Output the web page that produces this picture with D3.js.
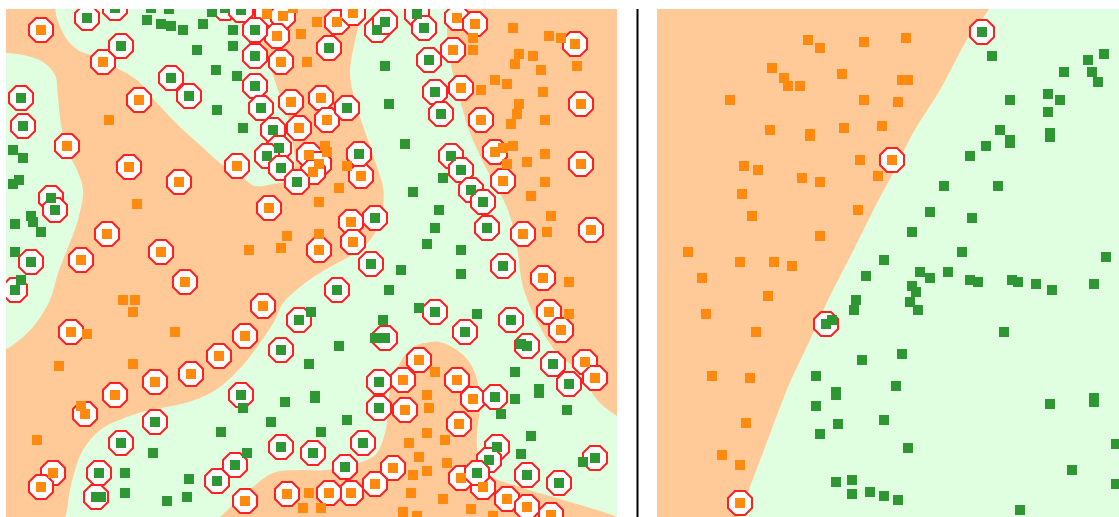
<!DOCTYPE html>
<html>
<head>
<meta charset="utf-8">
<script src="https://cdn.jsdelivr.net/npm/d3@7"></script>
<style>
  html, body { margin: 0; padding: 0; background: #fff; overflow: hidden; }
  svg { display: block; }
</style>
</head>
<body>
<div id="chart"></div>
<script>

// Left panel: non-linear decision regions
const leftGreenRegions = [
  [[6,53],[23,55],[43,62],[55,75],[58,97],[62,130],[72,160],[77,170],[83,190],[78,220],[67,250],[58,273],[50,300],[33,327],[13,345],[6,349],[-20,349],[-20,53]],
  [[58,0],[63,33],[78,50],[100,58],[117,68],[137,80],[157,103],[180,127],[200,145],[220,163],[243,178],[255,186],[273,184],[288,180],[295,165],[293,145],[287,113],[278,90],[272,72],[265,50],[258,30],[255,0]],
  [[364,0],[445,0],[447,33],[452,70],[460,100],[470,133],[487,170],[508,210],[517,247],[523,287],[540,327],[557,353],[577,370],[590,390],[600,403],[617,416],[640,430],[640,530],[617,517],[587,507],[553,497],[520,487],[490,475],[478,453],[477,433],[480,407],[478,383],[470,363],[457,350],[440,342],[430,342],[413,347],[400,363],[390,390],[388,413],[385,433],[377,453],[367,460],[327,470],[300,470],[273,473],[253,487],[220,517],[200,535],[68,535],[68,503],[75,470],[83,450],[100,430],[127,417],[150,410],[177,405],[200,398],[220,387],[243,365],[260,343],[275,320],[283,303],[300,287],[320,273],[343,260],[360,250],[375,233],[383,207],[383,187],[378,170],[368,140],[360,117],[353,93],[350,73],[353,50],[358,28]]
];

const leftOrangeSV = [[41,30],[103,62],[139,100],[67,146],[129,167],[179,182],[267,14],[283,16],[277,36],[281,62],[337,22],[353,13],[291,102],[321,98],[327,120],[299,128],[309,155],[319,164],[313,172],[361,176],[237,166],[457,18],[475,24],[453,50],[575,44],[461,88],[581,104],[481,120],[495,152],[581,164],[503,181],[107,234],[81,260],[161,252],[185,282],[71,332],[269,208],[351,222],[353,242],[319,250],[263,306],[245,336],[523,234],[591,230],[543,278],[549,312],[561,330],[155,382],[191,374],[219,356],[115,395],[85,414],[53,473],[41,487],[419,360],[403,380],[405,410],[393,468],[375,484],[351,493],[329,493],[287,494],[245,501],[457,380],[473,399],[459,424],[585,362],[595,378],[461,478],[483,487],[507,499],[527,507],[551,515]];

const leftGreenSV = [[87,18],[115,8],[121,46],[171,78],[189,96],[21,98],[23,126],[225,8],[241,10],[255,30],[255,56],[255,86],[261,108],[273,130],[279,148],[267,156],[281,168],[329,48],[347,108],[359,154],[377,30],[385,22],[417,14],[424,28],[429,60],[435,92],[441,114],[451,156],[461,170],[471,190],[483,202],[487,228],[51,198],[55,210],[31,262],[15,290],[297,182],[375,218],[371,264],[337,290],[299,320],[281,350],[385,338],[435,312],[503,266],[465,332],[511,320],[527,346],[155,422],[121,443],[96,497],[99,473],[217,481],[241,395],[281,447],[313,453],[235,465],[363,443],[345,467],[379,382],[379,408],[553,364],[569,384],[495,397],[497,447],[489,460],[477,473],[527,475],[559,483],[595,458]];

const leftOrange = [[109,120],[317,22],[301,34],[307,62],[325,146],[327,152],[347,166],[293,8],[513,28],[473,38],[473,50],[549,36],[561,38],[519,54],[533,56],[515,64],[577,66],[541,70],[495,80],[507,84],[481,90],[543,92],[519,104],[517,114],[545,120],[511,124],[513,146],[503,148],[545,154],[507,164],[527,162],[545,182],[137,204],[123,300],[135,300],[133,312],[87,334],[175,332],[339,188],[319,202],[287,236],[319,234],[281,248],[249,250],[531,196],[551,216],[547,232],[569,282],[569,314],[59,366],[133,364],[81,406],[37,440],[309,493],[303,508],[321,508],[409,443],[419,457],[413,475],[411,493],[403,512],[417,516],[427,395],[429,408],[427,433],[427,471],[435,372],[445,440],[447,463],[443,499],[471,509],[493,516]];

const leftGreen = [[147,20],[161,24],[171,26],[183,30],[203,24],[197,50],[212,12],[151,8],[169,9],[216,70],[217,110],[13,150],[23,158],[19,180],[13,184],[233,30],[233,46],[237,76],[243,128],[385,66],[389,104],[405,144],[443,178],[31,216],[33,222],[41,232],[15,224],[15,252],[21,280],[413,192],[427,244],[401,270],[389,290],[419,308],[311,312],[383,320],[375,338],[339,346],[439,210],[435,228],[461,250],[461,274],[477,314],[521,344],[153,453],[125,473],[125,493],[101,497],[189,479],[187,497],[167,501],[309,364],[315,396],[315,398],[285,402],[243,408],[271,422],[347,420],[221,432],[321,432],[247,453],[515,372],[539,389],[539,393],[515,399],[567,410],[501,414],[531,436],[521,454],[583,462]];

// Right panel: linear decision boundary
const rightGreenRegions = [
  [[992,0],[989,9],[968,38],[940,90],[913,133],[892,175],[877,203],[850,257],[828,300],[810,340],[788,387],[770,434],[750,487],[739,517],[730,540],[1140,540],[1140,0]]
];

const rightOrangeSV = [[892,160],[740,503]];
const rightGreenSV = [[982,32],[826,324]];

const rightOrange = [[808,40],[820,48],[864,42],[906,38],[772,68],[784,78],[788,86],[800,86],[842,74],[902,80],[908,80],[730,100],[864,100],[898,102],[770,130],[810,134],[810,136],[844,128],[882,126],[860,160],[744,166],[758,170],[802,178],[820,182],[878,176],[742,194],[752,216],[858,210],[820,236],[688,252],[740,262],[774,262],[792,266],[702,278],[768,296],[706,314],[756,332],[712,376],[750,378],[746,423],[722,455],[740,465]];

const rightGreen = [[992,56],[1104,54],[1088,60],[1064,72],[1092,72],[1098,82],[1010,100],[1048,94],[1060,100],[1048,112],[1000,130],[1010,140],[1010,143],[1050,133],[1050,137],[986,146],[970,156],[944,186],[998,186],[930,212],[972,218],[912,232],[962,252],[884,260],[1106,257],[866,276],[920,272],[930,278],[948,272],[970,280],[978,282],[1012,280],[1018,282],[1036,284],[1052,290],[1094,284],[912,286],[916,292],[910,302],[918,310],[856,300],[854,310],[1004,332],[832,320],[902,354],[862,360],[816,376],[896,386],[836,392],[836,395],[816,406],[1050,404],[1094,398],[1094,402],[838,424],[884,420],[820,434],[908,448],[1116,444],[1072,470],[1116,484],[836,482],[852,480],[852,494],[870,492],[884,496],[898,500],[1020,510]];

const width = 1119, height = 517;
const panelTop = 9;
const colors = {
  orangeBg: '#FFC998',
  greenBg: '#E0FFE0',
  orange: '#FF8A0E',
  green: '#2F9634',
  ring: '#FF2020'
};

const svg = d3.select('#chart').append('svg')
    .attr('width', width)
    .attr('height', height);

// Octagon used for the support vector rings
const octagon = d3.lineRadial()
    .angle(d => d)
    .radius(13)
    .curve(d3.curveLinearClosed)(d3.range(8).map(i => Math.PI / 8 + i * Math.PI / 4));

const square = d3.symbol().type(d3.symbolSquare).size(100)();

function drawPanel(id, left, right, regions, orange, green, orangeSV, greenSV) {
  const x = d3.scaleLinear().domain([left, right]).range([0, right - left]);
  const y = d3.scaleLinear().domain([panelTop, height]).range([0, height - panelTop]);

  svg.append('clipPath').attr('id', id)
    .append('rect')
      .attr('width', right - left)
      .attr('height', height - panelTop);

  const g = svg.append('g')
      .attr('transform', `translate(${left},${panelTop})`)
      .attr('clip-path', `url(#${id})`);

  g.append('rect')
      .attr('width', right - left)
      .attr('height', height - panelTop)
      .attr('fill', colors.orangeBg);

  const region = d3.line()
      .x(d => x(d[0]))
      .y(d => y(d[1]))
      .curve(d3.curveCatmullRomClosed.alpha(0.5));

  g.selectAll('.region')
      .data(regions)
    .join('path')
      .attr('class', 'region')
      .attr('d', region)
      .attr('fill', colors.greenBg);

  // rings go first, the squares always sit on top of them
  g.selectAll('.ring')
      .data(orangeSV.concat(greenSV))
    .join('path')
      .attr('class', 'ring')
      .attr('d', octagon)
      .attr('transform', d => `translate(${x(d[0])},${y(d[1])})`)
      .attr('fill', '#fff')
      .attr('stroke', colors.ring)
      .attr('stroke-width', 2);

  const points = [
    {cls: 'orange', values: orange.concat(orangeSV), fill: colors.orange},
    {cls: 'green', values: green.concat(greenSV), fill: colors.green}
  ];

  points.forEach(p => {
    g.selectAll('.' + p.cls)
        .data(p.values)
      .join('path')
        .attr('class', p.cls)
        .attr('d', square)
        .attr('transform', d => `translate(${x(d[0])},${y(d[1])})`)
        .attr('fill', p.fill);
  });
}

drawPanel('left-clip', 6, 617, leftGreenRegions, leftOrange, leftGreen, leftOrangeSV, leftGreenSV);
drawPanel('right-clip', 657, 1119, rightGreenRegions, rightOrange, rightGreen, rightOrangeSV, rightGreenSV);

// Divider between the two panels
svg.append('line')
    .attr('x1', 637.5)
    .attr('x2', 637.5)
    .attr('y1', panelTop)
    .attr('y2', height)
    .attr('stroke', '#000')
    .attr('stroke-width', 2);
</script>
</body>
</html>
